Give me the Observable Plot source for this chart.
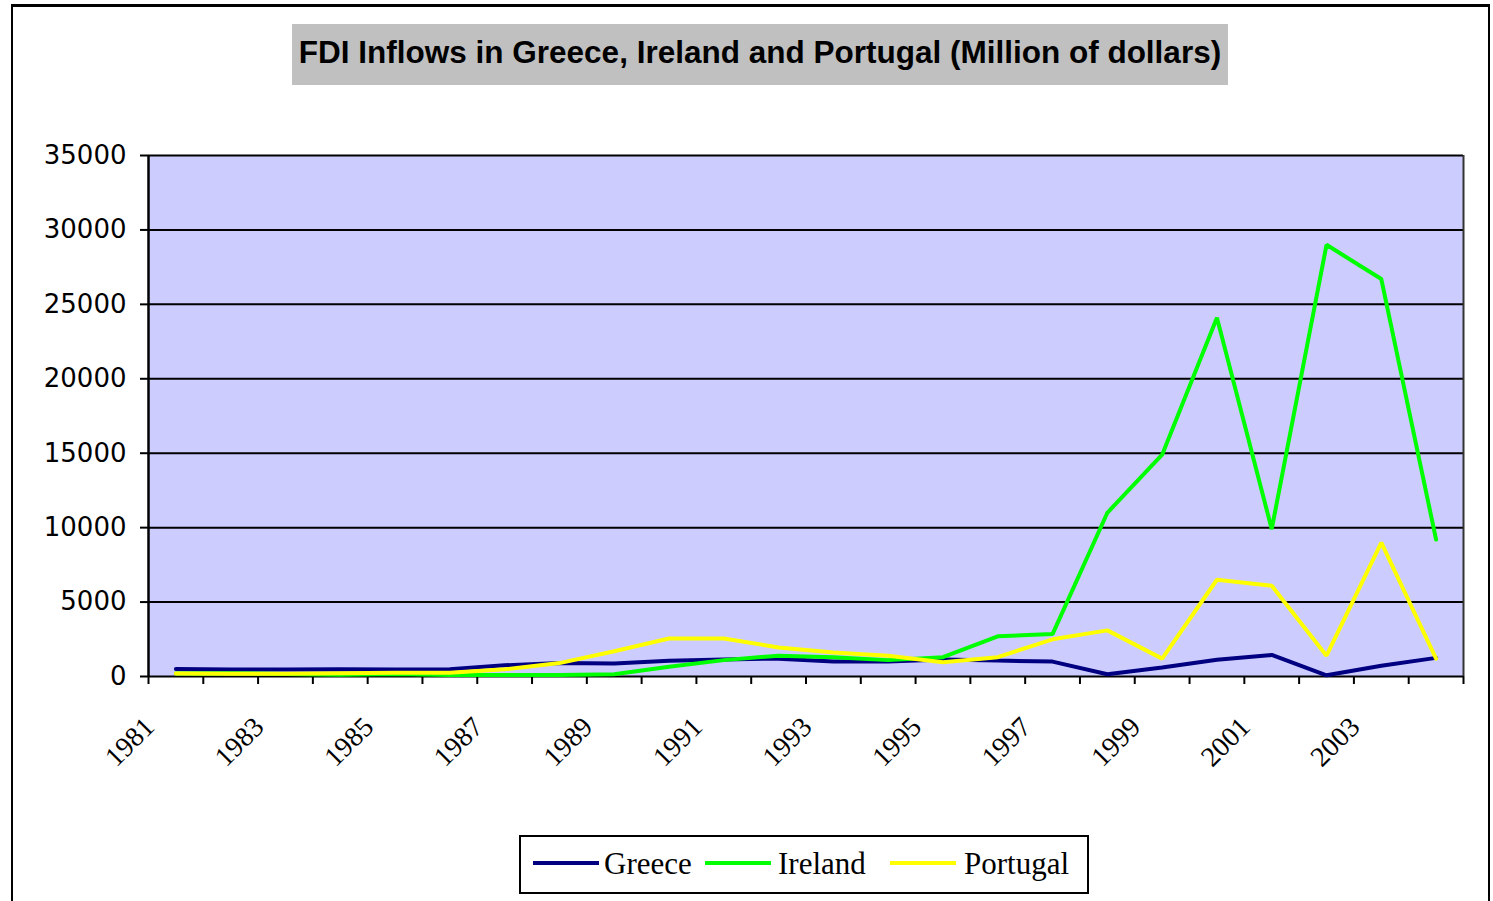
<!DOCTYPE html>
<html>
<head>
<meta charset="utf-8">
<script src="https://cdn.jsdelivr.net/npm/d3@7"></script>
<script src="https://cdn.jsdelivr.net/npm/@observablehq/plot@0.6"></script>
<style>
  html, body { margin: 0; padding: 0; background: #fff; }
  body { width: 1493px; height: 901px; position: relative; overflow: hidden; }
  #frame { position: absolute; left: 11px; top: 4px; width: 1475px; height: 920px; border: 2px solid #000; border-top-width: 3px; }
  #title { position: absolute; left: 292px; top: 24px; width: 936px; height: 61px; background: #C0C0C0;
           font: bold 31.5px "Liberation Sans", Arial, sans-serif; line-height: 56px; text-align: center; color: #000; white-space: nowrap; }
  #chart { position: absolute; left: 0; top: 130px; }
  #legend { position: absolute; left: 519px; top: 835px; }
</style>
</head>
<body>
<div id="frame"></div>
<div id="title">FDI Inflows in Greece, Ireland and Portugal (Million of dollars)</div>
<div id="chart"></div>
<svg id="legend" width="572" height="62"></svg>
<script>
const years = [1981,1982,1983,1984,1985,1986,1987,1988,1989,1990,1991,1992,1993,1994,1995,1996,1997,1998,1999,2000,2001,2002,2003,2004];
const greece   = [500,470,470,480,470,480,750,900,870,1050,1150,1200,1000,1000,1150,1070,1000,150,600,1120,1450,80,720,1250];
const ireland  = [200,220,170,120,160,100,100,100,150,650,1100,1400,1300,1100,1300,2700,2850,11000,14900,24100,9900,29000,26700,9200];
const portugal = [200,180,180,220,250,250,480,900,1700,2550,2550,1950,1620,1400,950,1300,2500,3100,1200,6500,6100,1400,9000,1200];
const countries = ["Greece","Ireland","Portugal"];
const colors = ["#000080","#00FF00","#FFFF00"];
const yTicks = [0,5000,10000,15000,20000,25000,30000,35000];
const xLabelYears = [1981,1983,1985,1987,1989,1991,1993,1995,1997,1999,2001,2003];

const series = [greece, ireland, portugal];
const rows = [];
countries.forEach((c, i) => years.forEach((y, j) => rows.push({country: c, year: y, value: series[i][j]})));
const boundaries = years.map(y => y - 0.5).concat([years[years.length - 1] + 0.5]);

const chart = Plot.plot({
  width: 1493,
  height: 680,
  marginTop: 25,
  marginRight: 30,
  marginBottom: 134,
  marginLeft: 148,
  style: {background: "transparent", overflow: "visible", color: "#000"},
  x: {type: "linear", domain: [boundaries[0], boundaries[boundaries.length - 1]], axis: null, label: null},
  y: {domain: [0, 35000], axis: null, label: null},
  color: {domain: countries, range: colors},
  marks: [
    Plot.frame({fill: "#CCCCFF", stroke: null}),
    Plot.ruleY(yTicks, {stroke: "#000", strokeWidth: 2}),
    Plot.ruleX([boundaries[0]], {stroke: "#000", strokeWidth: 2.5}),
    Plot.ruleX([boundaries[boundaries.length - 1]], {stroke: "#333", strokeWidth: 2}),
    Plot.axisX({ticks: boundaries, tickSize: 8, tickFormat: () => "", label: null, stroke: "#000", strokeWidth: 2}),
    Plot.axisY({ticks: yTicks, tickSize: 8, tickPadding: 14, tickFormat: d => String(d), label: null,
                fontSize: 26, fontFamily: "DejaVu Sans", stroke: "#000", strokeWidth: 2, fill: "#000"}),
    Plot.lineY(rows, {x: "year", y: "value", z: "country", stroke: "country", strokeWidth: 4, strokeLinejoin: "miter"}),
    Plot.text(xLabelYears, {x: d => d, text: d => String(d), frameAnchor: "bottom", rotate: -45, textAnchor: "end",
                            dx: -20, dy: 52, fontSize: 28, fontFamily: "Liberation Serif", fill: "#000"})
  ]
});
document.getElementById("chart").appendChild(chart);

// Legend
const lg = d3.select("#legend");
lg.append("rect").attr("x", 1).attr("y", 1).attr("width", 568).attr("height", 57)
  .attr("fill", "#fff").attr("stroke", "#000").attr("stroke-width", 2);
const entries = [
  {name: countries[0], color: colors[0], lx: 14, tx: 85},
  {name: countries[1], color: colors[1], lx: 186, tx: 259},
  {name: countries[2], color: colors[2], lx: 371, tx: 445}
];
entries.forEach(e => {
  lg.append("line").attr("x1", e.lx).attr("x2", e.lx + 66).attr("y1", 28).attr("y2", 28)
    .attr("stroke", e.color).attr("stroke-width", 4);
  lg.append("text").attr("x", e.tx).attr("y", 39).text(e.name)
    .attr("font-family", "Liberation Serif").attr("font-size", 31).attr("fill", "#000");
});
</script>
</body>
</html>
